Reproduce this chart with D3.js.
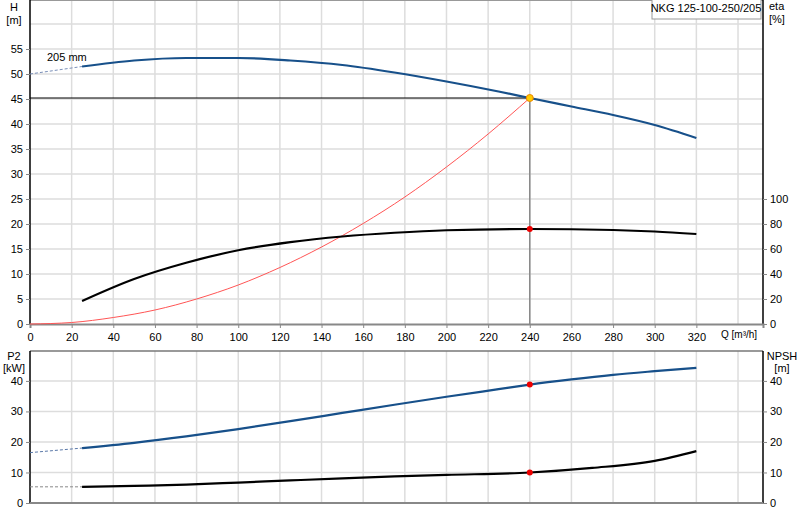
<!DOCTYPE html>
<html><head><meta charset="utf-8">
<script src="https://cdn.jsdelivr.net/npm/d3@7"></script>
<style>body{margin:0;background:#fff}text{font-family:Arial,"Liberation Sans",sans-serif;font-size:11px;fill:#000}</style>
</head><body><svg id="c" width="800" height="520"></svg>
<script>
// Pump head curve (Q m3/h, H m)
const headQ = [25, 50, 75, 100, 125, 150, 175, 200, 225, 240, 260, 280, 300, 320];
const headH = [51.5, 52.7, 53.2, 53.2, 52.7, 51.8, 50.3, 48.5, 46.5, 45.2, 43.5, 41.8, 39.8, 37.2];
const headExt = [[0, 50], [25, 51.5]];
// Efficiency curve (%)
const etaQ = [25, 50, 75, 100, 125, 150, 175, 200, 240, 280, 300, 320];
const etaV = [18.4, 36, 49, 59, 65.5, 70, 73, 75, 76, 75.2, 74, 72];
// System curve
const sysQ = [0, 20, 40, 60, 80, 100, 120, 140, 160, 180, 200, 220, 240];
const sysH = [0, 0.3, 1.3, 2.8, 5, 7.8, 11.3, 15.4, 20.1, 25.4, 31.4, 38, 45.2];
// Power P2 (kW)
const p2Q = [25, 50, 75, 100, 125, 150, 175, 200, 225, 240, 260, 280, 300, 320];
const p2V = [18, 19.7, 21.8, 24.2, 26.8, 29.5, 32.2, 34.8, 37.3, 38.8, 40.5, 42, 43.2, 44.3];
const p2Ext = [[0, 16.5], [25, 18]];
// NPSH (m)
const npQ = [25, 50, 75, 100, 125, 150, 175, 200, 240, 270, 300, 320];
const npV = [5.3, 5.6, 6.0, 6.7, 7.4, 8.1, 8.7, 9.2, 10, 11.5, 13.8, 17];
const npExt = [[0, 5.3], [25, 5.3]];
// Duty point
const duty = {q: 240, h: 45.2, eta: 76, p2: 38.8, npsh: 10};
const qTicks = d3.range(0, 321, 20);
const hTicks = d3.range(0, 56, 5);
const etaTicks = d3.range(0, 101, 20);
const pTicks = [0, 10, 20, 30, 40];

const svg = d3.select("#c");
const x = d3.scaleLinear().domain([0, 352]).range([30, 763]);
const yH = d3.scaleLinear().domain([0, 64.8]).range([324, 0]);
const yEta = d3.scaleLinear().domain([0, 259.2]).range([324, 0]);
const yP = d3.scaleLinear().domain([0, 49.8]).range([503, 351]);

const grid = svg.append("g").attr("stroke", "#ddd").attr("stroke-width", 1.5);
// vertical grid
d3.range(20, 341, 20).forEach(q => {
  grid.append("line").attr("x1", x(q)).attr("x2", x(q)).attr("y1", 0).attr("y2", 324);
  grid.append("line").attr("x1", x(q)).attr("x2", x(q)).attr("y1", 351).attr("y2", 503);
});
d3.range(5, 61, 5).forEach(h => grid.append("line").attr("x1", 30).attr("x2", 763).attr("y1", yH(h)).attr("y2", yH(h)));
pTicks.slice(1).forEach(p => grid.append("line").attr("x1", 30).attr("x2", 763).attr("y1", yP(p)).attr("y2", yP(p)));

// frames
svg.append("line").attr("x1", 30).attr("x2", 763).attr("y1", 0.5).attr("y2", 0.5).attr("stroke", "#999");
svg.append("line").attr("x1", 30).attr("x2", 763).attr("y1", 351).attr("y2", 351).attr("stroke", "#777").attr("stroke-width", 1.5);

// axes
const axL = svg.append("g").attr("transform", "translate(30,0)").call(d3.axisLeft(yH).tickValues(hTicks).tickSize(4));
const axR = svg.append("g").attr("transform", "translate(763,0)").call(d3.axisRight(yEta).tickValues(etaTicks).tickSize(4));
const axB = svg.append("g").attr("transform", "translate(0,324)").call(d3.axisBottom(x).tickValues(qTicks).tickSize(4));
const axPL = svg.append("g").attr("transform", "translate(30,0)").call(d3.axisLeft(yP).tickValues(pTicks).tickSize(4));
const axPR = svg.append("g").attr("transform", "translate(763,0)").call(d3.axisRight(yP).tickValues(pTicks).tickSize(4));
[axL, axR, axB, axPL, axPR].forEach(a => {
  a.selectAll("text").style("font-size", "11px").style("font-family", "Arial, 'Liberation Sans', sans-serif");
  a.selectAll(".tick line").attr("stroke", "#888");
  a.select(".domain").attr("stroke", "#000").attr("stroke-width", 1.5);
});
axB.select(".domain").attr("stroke", "#888").attr("stroke-width", 2);
axB.selectAll("text").attr("dy", "0.9em");
axPL.select(".domain").attr("d", "M0,351V503");
axPR.select(".domain").attr("d", "M0,351V503");
axL.select(".domain").attr("d", "M0,0V324");
axR.select(".domain").attr("d", "M0,0V324");
svg.append("line").attr("x1", 30).attr("x2", 763).attr("y1", 503).attr("y2", 503).attr("stroke", "#888").attr("stroke-width", 2);

// labels
const lab = (t, xx, yy, a) => svg.append("text").attr("x", xx).attr("y", yy).attr("text-anchor", a || "middle").text(t);
lab("H", 14, 11); lab("[m]", 14, 24);
lab("eta", 769, 10, "start"); lab("[%]", 769, 23, "start");
lab("P2", 14, 360); lab("[kW]", 14, 372);
lab("NPSH", 782, 360); lab("[m]", 782, 372);
lab("Q [m³/h]", 721, 338, "start").style("font-size", "10px");
lab("205 mm", 47, 61, "start");
svg.append("rect").attr("x", 652).attr("y", -1).attr("width", 109).attr("height", 20).attr("fill", "#fff").attr("stroke", "#999");
lab("NKG 125-100-250/205", 706, 12);

// duty lines
svg.append("line").attr("x1", 30).attr("x2", x(duty.q)).attr("y1", yH(duty.h)).attr("y2", yH(duty.h)).attr("stroke", "#000").attr("stroke-width", 1.2);
svg.append("line").attr("x1", x(duty.q)).attr("x2", x(duty.q)).attr("y1", yH(duty.h)).attr("y2", 324).attr("stroke", "#888").attr("stroke-width", 1.5);

const curve = (qs, vs, y, color, w, dash) => svg.append("path")
  .datum(qs.map((q, i) => [q, vs[i]]))
  .attr("d", d3.line().x(d => x(d[0])).y(d => y(d[1])).curve(d3.curveMonotoneX))
  .attr("fill", "none").attr("stroke", color).attr("stroke-width", w).attr("stroke-dasharray", dash || null);

curve(sysQ, sysH, yH, "#f55", 1);
curve(headExt.map(d => d[0]), headExt.map(d => d[1]), yH, "#7a8fb8", 1, "3,2");
curve(headQ, headH, yH, "#17508a", 2.2);
curve(etaQ, etaV, yEta, "#000", 2.2);
curve(p2Ext.map(d => d[0]), p2Ext.map(d => d[1]), yP, "#5a78a8", 1, "3,2");
curve(p2Q, p2V, yP, "#17508a", 2.2);
curve(npExt.map(d => d[0]), npExt.map(d => d[1]), yP, "#888", 1, "3,2");
curve(npQ, npV, yP, "#000", 2.2);

svg.append("circle").attr("cx", x(duty.q)).attr("cy", yH(duty.h)).attr("r", 3.5).attr("fill", "#fc0").attr("stroke", "#e80");
[[yEta, duty.eta], [yP, duty.p2], [yP, duty.npsh]].forEach(([y, v]) =>
  svg.append("circle").attr("cx", x(duty.q)).attr("cy", y(v)).attr("r", 3).attr("fill", "#e00"));
</script></body></html>
